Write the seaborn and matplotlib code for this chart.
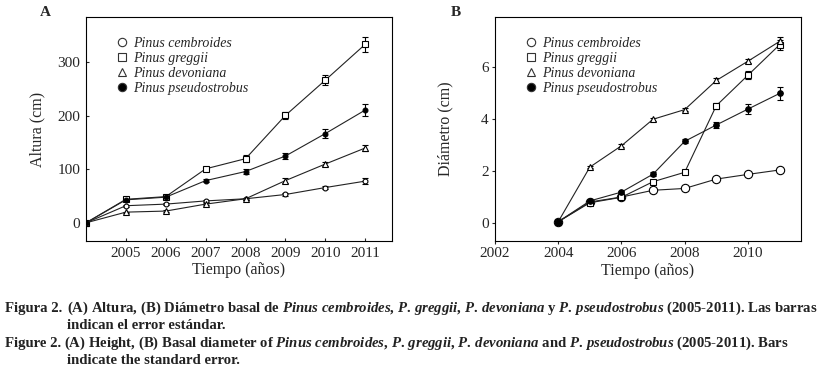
import numpy as np
import pandas as pd
import seaborn as sns
import matplotlib
from matplotlib import pyplot as plt
from matplotlib.lines import Line2D

matplotlib.use('Agg')

years = [2004, 2005, 2006, 2007, 2008, 2009, 2010, 2011]
species = ["Pinus cembroides", "Pinus greggii", "Pinus devoniana", "Pinus pseudostrobus"]

# Altura (cm)
alt_cembroides = [0, 32, 35, 41, 45, 53, 66, 78]
alt_greggii = [0, 44, 49, 101, 120, 201, 267, 334]
alt_devoniana = [0, 20, 22, 35, 45, 79, 110, 140]
alt_pseudostrobus = [0, 43, 48, 79, 96, 125, 167, 211]
alt_err_cembroides = [0, 2, 2, 2, 2, 3, 3, 6]
alt_err_greggii = [0, 2, 3, 4, 6, 7, 10, 14]
alt_err_devoniana = [0, 1, 2, 2, 2, 4, 4, 6]
alt_err_pseudostrobus = [0, 2, 2, 3, 4, 6, 8, 12]

# Diametro (cm)
dia_cembroides = [0.05, 0.81, 1.00, 1.26, 1.33, 1.69, 1.87, 2.04]
dia_greggii = [0.05, 0.78, 0.99, 1.59, 1.95, 4.51, 5.68, 6.85]
dia_devoniana = [0.05, 2.15, 2.97, 3.99, 4.36, 5.48, 6.22, 6.98]
dia_pseudostrobus = [0.05, 0.85, 1.19, 1.88, 3.14, 3.77, 4.38, 4.98]
dia_err_cembroides = [0, 0.02, 0.03, 0.03, 0.03, 0.04, 0.05, 0.06]
dia_err_greggii = [0, 0.03, 0.04, 0.05, 0.08, 0.12, 0.15, 0.20]
dia_err_devoniana = [0, 0.05, 0.05, 0.06, 0.07, 0.08, 0.08, 0.16]
dia_err_pseudostrobus = [0, 0.03, 0.05, 0.07, 0.08, 0.13, 0.18, 0.24]

alt = [alt_cembroides, alt_greggii, alt_devoniana, alt_pseudostrobus]
alt_err = [alt_err_cembroides, alt_err_greggii, alt_err_devoniana, alt_err_pseudostrobus]
dia = [dia_cembroides, dia_greggii, dia_devoniana, dia_pseudostrobus]
dia_err = [dia_err_cembroides, dia_err_greggii, dia_err_devoniana, dia_err_pseudostrobus]

markers = ["o", "s", "^", "o"]
faces = ["white", "white", "white", "black"]

sns.set_theme(style="ticks")
plt.rcParams['font.family'] = ['Liberation Serif', 'DejaVu Serif']
plt.rcParams['axes.linewidth'] = 0.8
plt.rcParams['xtick.major.width'] = 0.8
plt.rcParams['ytick.major.width'] = 0.8
plt.rcParams['mathtext.fontset'] = 'custom'
plt.rcParams['mathtext.rm'] = 'Liberation Serif:bold'
plt.rcParams['mathtext.it'] = 'Liberation Serif:italic:bold'
plt.rcParams['mathtext.bf'] = 'Liberation Serif:bold'

fig = plt.figure(figsize=(8.29, 3.76), dpi=100)
W, H = 829, 376
axA = fig.add_axes([86 / W, 1 - 241 / H, (392 - 86) / W, (241 - 17) / H])
axB = fig.add_axes([495 / W, 1 - 241 / H, (801 - 495) / W, (241 - 17) / H])


def draw_panel(ax, values, errors, msizes):
    for i, sp in enumerate(species):
        df = pd.DataFrame({"year": years, "value": values[i], "err": errors[i]})
        ax.errorbar(df["year"], df["value"], yerr=df["err"], fmt="none",
                    ecolor="black", elinewidth=0.8, capsize=2.5, capthick=0.8, zorder=2)
        sns.lineplot(data=df, x="year", y="value", ax=ax, color="#222222", linewidth=0.8,
                     marker=markers[i], markersize=msizes[i], markerfacecolor=faces[i],
                     markeredgecolor="black", markeredgewidth=0.8, zorder=3)
    ax.set_xlabel("Tiempo (años)", fontsize=11.5, labelpad=2)
    handles = [Line2D([], [], linestyle="none", marker=markers[i], markersize=6,
                      markerfacecolor=faces[i], markeredgecolor="#333333", markeredgewidth=0.8)
               for i in range(4)]
    ax.legend(handles, species, loc="upper left", bbox_to_anchor=(0.08, 0.95),
              frameon=False, handlelength=0.5, handletextpad=0.55, labelspacing=0.15,
              borderaxespad=0.2,
              prop={"family": "Liberation Serif", "style": "italic", "size": 10})
    for s in ax.spines.values():
        s.set_visible(True)
        s.set_color("black")


draw_panel(axA, alt, alt_err, [3.5, 4, 4, 3.5])
axA.set_xlim(2004, 2011.67)
axA.set_ylim(-34, 385)
axA.set_xticks([2005, 2006, 2007, 2008, 2009, 2010, 2011])
axA.set_yticks([0, 100, 200, 300])
axA.set_ylabel("Altura (cm)", fontsize=11.5)
axA.yaxis.set_label_coords(-0.134, 0.5)
axA.tick_params(labelsize=11, direction="in", length=2.5, pad=4, top=False, right=False)

draw_panel(axB, dia, dia_err, [6, 4.5, 4.5, 4])
axB.set_xlim(2002, 2011.68)
axB.set_ylim(-0.69, 7.92)
axB.set_xticks([2002, 2004, 2006, 2008, 2010])
axB.set_yticks([0, 2, 4, 6])
axB.set_ylabel("Diámetro (cm)", fontsize=11.5)
axB.yaxis.set_label_coords(-0.137, 0.5)
axB.tick_params(labelsize=11, direction="out", length=2.5, pad=2, top=False, right=False)

fig.text(40 / W, 1 - 13 / H, "A", fontsize=11, fontweight="bold", va="center", ha="left")
fig.text(451 / W, 1 - 13 / H, "B", fontsize=11, fontweight="bold", va="center", ha="left")

# caption
cap_size = 10.6
cap_kw = dict(fontsize=cap_size, fontweight="bold", va="baseline", ha="left", color="#222222")
sp = [r"$\mathit{Pinus\ cembroides}$", r"$\mathit{P.\,greggii}$",
      r"$\mathit{P.\,devoniana}$", r"$\mathit{P.\,pseudostrobus}$"]
line1 = ("(A) Altura, (B) Diámetro basal de " + sp[0] + ", " + sp[1] + ", " + sp[2]
         + " y " + sp[3] + " (2005-2011). Las barras")
line3 = ("(A) Height, (B) Basal diameter of " + sp[0] + ", " + sp[1] + ", " + sp[2]
         + " and " + sp[3] + " (2005-2011). Bars")
fig.text(5 / W, 1 - 312 / H, "Figura 2.", **cap_kw)
fig.text(67 / W, 1 - 312 / H, line1, **cap_kw)
fig.text(67 / W, 1 - 329 / H, "indican el error estándar.", **cap_kw)
fig.text(5 / W, 1 - 347 / H, "Figure 2.", **cap_kw)
fig.text(64 / W, 1 - 347 / H, line3, **cap_kw)
fig.text(67 / W, 1 - 364 / H, "indicate the standard error.", **cap_kw)

fig.savefig("out.png", dpi=100)
